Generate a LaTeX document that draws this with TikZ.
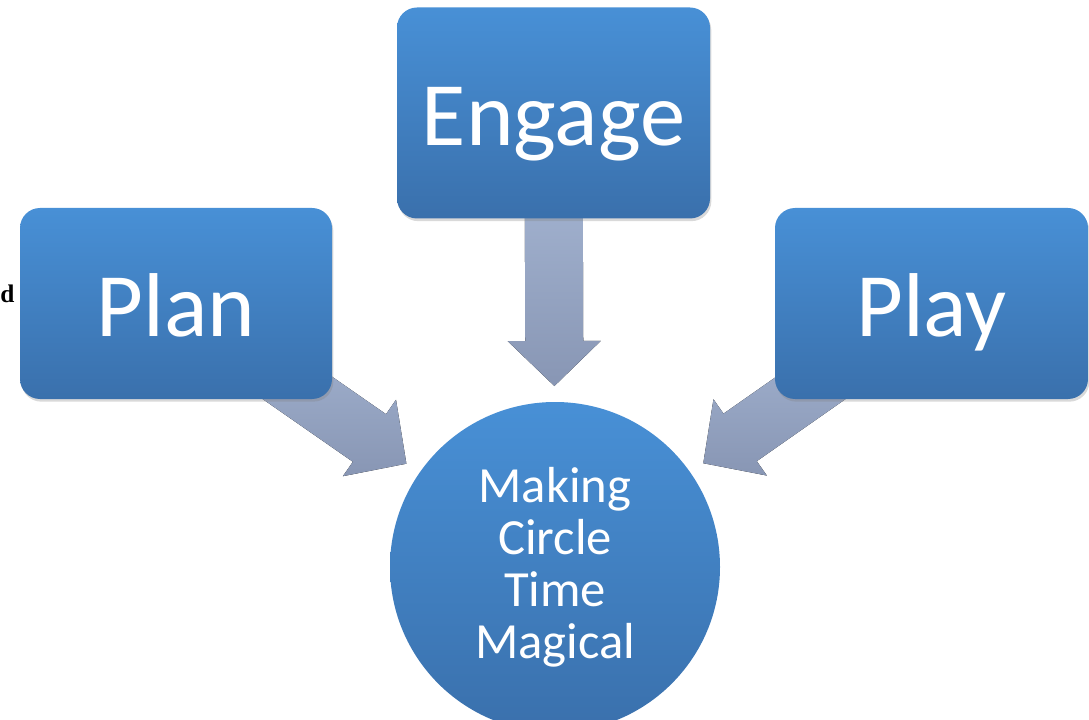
\documentclass[tikz,border=0pt]{standalone}
\usepackage{fontspec}
\setmainfont{Carlito}
\newfontfamily\bodyserif{Liberation Serif}
\usetikzlibrary{calc,shadows,backgrounds}

\definecolor{boxtop}{RGB}{72,144,214}
\definecolor{boxbot}{RGB}{58,112,172}
\definecolor{arrowtop}{RGB}{172,189,218}
\definecolor{arrowbot}{RGB}{136,150,180}

\tikzset{
    stepbox/.style={rectangle, rounded corners=15pt, inner sep=0pt,
        top color=boxtop, bottom color=boxbot, text=white,
        font=\fontsize{68}{72}\selectfont, text height=49.5pt, text depth=0pt,
        drop shadow={opacity=0.3, shadow xshift=1pt, shadow yshift=-2pt}},
    hub/.style={circle, minimum size=247.5pt, inner sep=0pt, align=center,
        top color=boxtop, bottom color=boxbot, text=white,
        font=\fontsize{38}{39}\selectfont},
    arrowfill/.style={top color=arrowtop, bottom color=arrowbot}
}

% block arrow from a box towards the hub
\newcommand{\blockarrow}[2]{%
    \path ($(#2.center)!135.75pt!(#1.center)$) coordinate (tip)
          ($(tip)!33.75pt!(#1.center)$) coordinate (hbase);
    \fill[arrowfill] ($(#1.center)!21.75pt!90:(tip)$) -- ($(hbase)!21.75pt!90:(tip)$)
        -- ($(hbase)!34.9pt!90:(tip)$) -- (tip) -- ($(hbase)!34.9pt!-90:(tip)$)
        -- ($(hbase)!21.75pt!-90:(tip)$) -- ($(#1.center)!21.75pt!-90:(tip)$) -- cycle;
}

\begin{document}
\begin{tikzpicture}[x=0.75pt, y=-0.75pt]

        \useasboundingbox (0,0) rectangle (1089,720);

        \node[font=\bodyserif\bfseries\fontsize{19}{22}\selectfont, anchor=base west, inner sep=0pt] (cutd) at (0,303) {d};

        \node[stepbox, minimum width=234.75pt, minimum height=158.25pt] (engage) at (553.5,113) {Engage};
        \node[stepbox, minimum width=234pt, minimum height=143.25pt] (plan) at (176,303.5) {Plan};
        \node[stepbox, minimum width=234.75pt, minimum height=143.25pt] (play) at (931.5,303.5) {Play};

        \node[hub] (magic) at (555,567) {Making\\Circle\\Time\\Magical};

        \begin{scope}[on background layer]
            \blockarrow{engage}{magic}
            \blockarrow{plan}{magic}
            \blockarrow{play}{magic}
        \end{scope}

\end{tikzpicture}
\end{document}
